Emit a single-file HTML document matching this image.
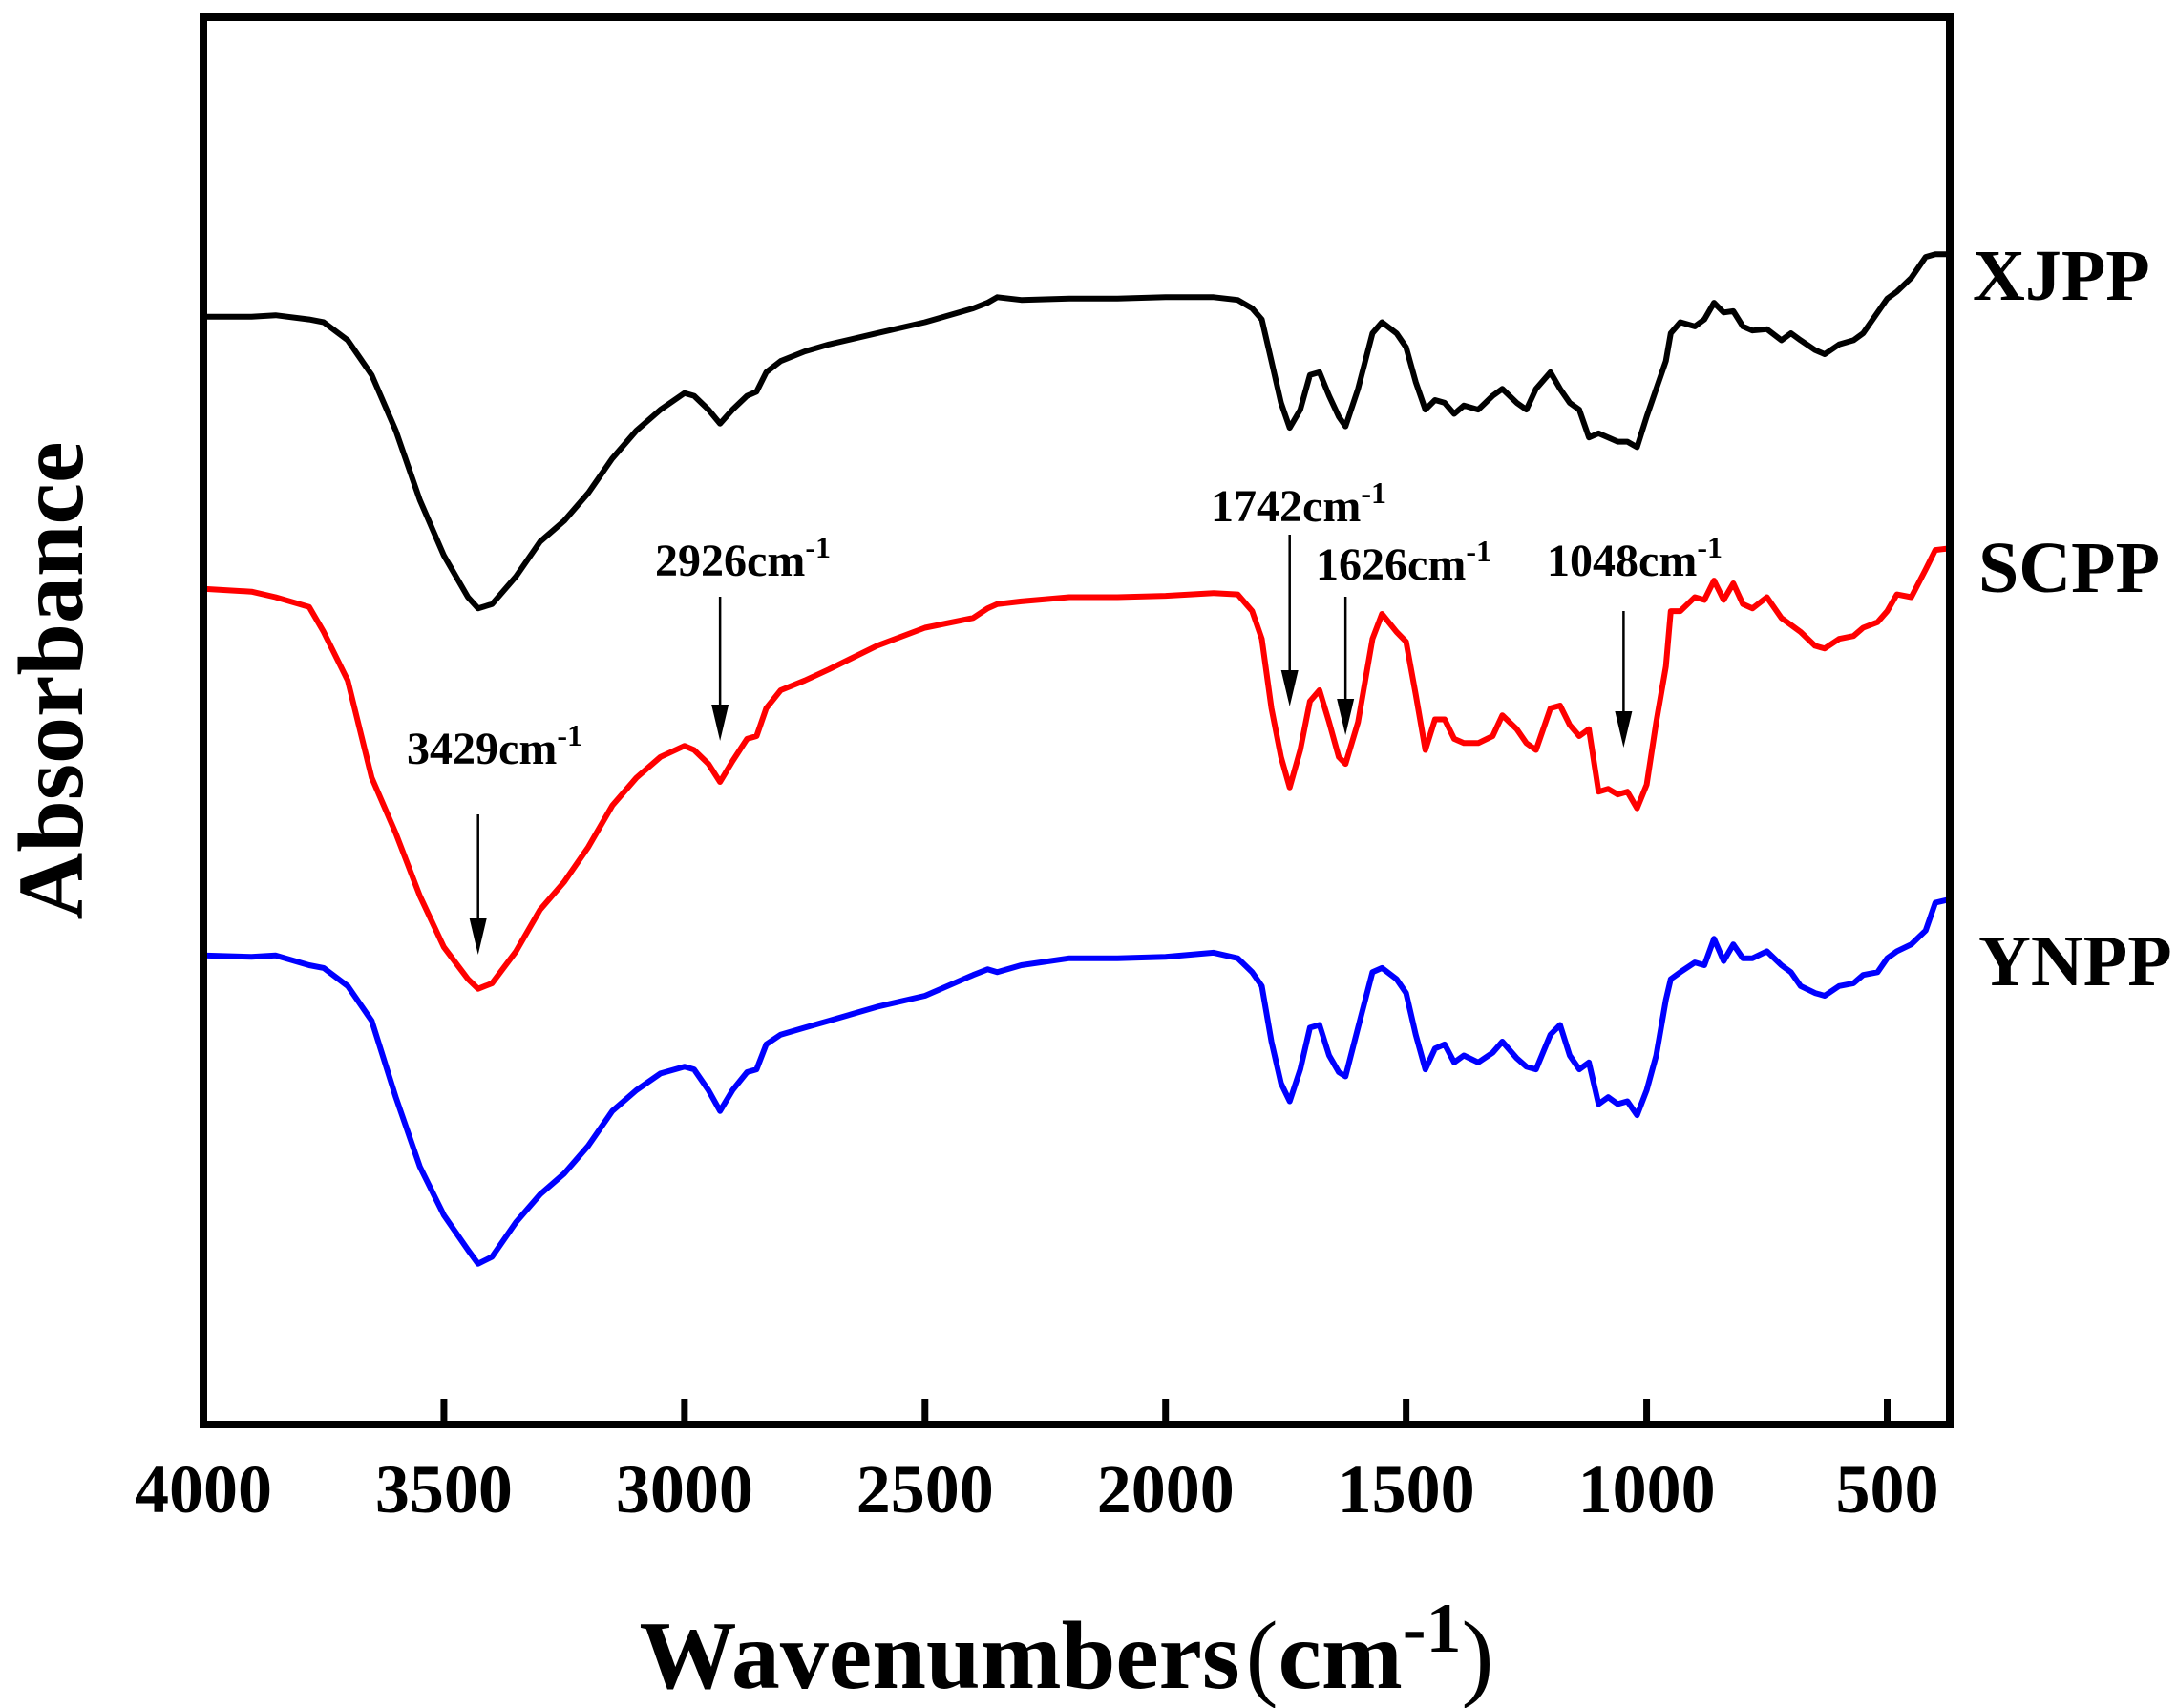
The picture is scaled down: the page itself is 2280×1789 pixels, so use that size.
<!DOCTYPE html>
<html><head><meta charset="utf-8"><style>
html,body{margin:0;padding:0;background:#fff;}
svg{display:block;}
text{font-family:"Liberation Serif",serif;font-weight:bold;fill:#000;}
</style></head><body>
<svg id="chart" width="2280" height="1789" viewBox="0 0 2280 1789" xmlns="http://www.w3.org/2000/svg">
<g id="series"></g>
<g id="annots"></g>
<rect x="213" y="18" width="1829" height="1474" fill="none" stroke="#000" stroke-width="8"/>
<g id="xaxis"></g>
<text x="2066" y="314" font-size="76">XJPP</text>
<text x="2072" y="620" font-size="76">SCPP</text>
<text x="2072" y="1032" font-size="76">YNPP</text>
<text transform="translate(86,713) rotate(-90)" text-anchor="middle" font-size="98">Absorbance</text>
<text x="1117" y="1768" text-anchor="middle" font-size="102">Wavenumbers<tspan font-weight="normal" dx="6">(</tspan>cm<tspan dy="-38" font-size="74">-1</tspan><tspan dy="38" font-weight="normal">)</tspan></text>
</svg>
<script>
// wavenumber grid (cm-1)
const wn = [4000,3900,3850,3780,3750,3700,3650,3600,3550,3500,3450,3429,3400,3350,3300,3250,3200,3150,3100,3050,3000,2980,2950,2926,2900,2870,2850,2830,2800,2750,2700,2600,2500,2400,2370,2350,2300,2200,2100,2000,1900,1850,1820,1800,1780,1760,1742,1720,1700,1680,1660,1640,1626,1600,1570,1550,1520,1500,1480,1460,1440,1420,1400,1380,1350,1320,1300,1270,1250,1230,1200,1180,1160,1140,1120,1100,1080,1060,1040,1020,1000,980,960,950,930,900,880,860,840,820,800,780,750,720,700,680,650,630,600,570,550,520,500,480,450,420,400,375];
// signal depth values (larger = lower on plot)
const xjpp = [228,228,227,230,232,245,270,310,360,400,430,438,435,415,390,375,355,330,310,295,283,285,295,305,295,285,282,268,260,253,248,240,232,222,218,214,216,215,215,214,214,216,222,230,260,290,308,295,270,268,285,300,307,280,240,232,240,250,275,295,288,290,298,292,295,285,280,290,295,280,268,280,290,295,315,312,315,318,318,322,300,280,260,240,232,235,230,218,225,224,235,238,237,245,240,245,252,255,248,245,240,225,215,210,200,185,183,183];
const scpp = [424,426,430,437,455,490,560,600,645,682,705,712,708,685,655,635,610,580,560,545,537,540,550,563,548,532,530,510,497,490,482,465,452,445,438,435,433,430,430,429,427,428,440,460,510,545,567,540,505,497,520,545,550,520,460,442,455,462,500,540,518,518,532,535,535,530,515,525,535,540,510,508,522,530,525,570,568,572,570,582,565,520,480,440,440,430,432,418,432,420,435,438,430,445,450,455,465,467,460,458,452,448,440,428,430,410,396,395];
const ynpp = [688,689,688,695,697,710,735,790,840,875,900,910,905,880,860,845,825,800,785,773,768,770,785,800,785,772,770,752,745,740,735,725,717,702,698,700,695,690,690,689,686,690,700,710,750,780,793,770,740,738,760,772,775,740,700,697,705,715,745,770,755,752,765,760,765,758,750,762,768,770,745,738,760,770,765,795,790,795,793,803,785,760,720,705,700,693,695,676,692,680,690,690,685,695,700,710,715,717,710,708,702,700,690,685,680,670,650,648];
const xTicks = [4000,3500,3000,2500,2000,1500,1000,500];
const peaks = [3429,2926,1742,1626,1048];
const peakLabels = ["3429","2926","1742","1626","1048"];

const NS="http://www.w3.org/2000/svg";
const X0=213, X1=2042, W0=4000, W1=370;
function xs(w){return X0+(W0-w)*(X1-X0)/(W0-W1);}
function ys(v){return 17.5+(v-12)*(1491-17.5)/1013;}

const sg=document.getElementById('series');
[[xjpp,'#000','xjpp'],[scpp,'#ff0000','scpp'],[ynpp,'#0000ff','ynpp']].forEach(([arr,c,n])=>{
  const p=document.createElementNS(NS,'path');
  
  
  p.setAttribute('d', arr.map((v,i)=>(i?'L':'M')+xs(wn[i]).toFixed(1)+','+ys(v).toFixed(1)).join(''));
  p.setAttribute('fill','none');p.setAttribute('stroke',c);p.setAttribute('stroke-width','6');p.setAttribute('stroke-linejoin','round');
  sg.appendChild(p);
});

const xa=document.getElementById('xaxis');
xTicks.forEach(t=>{
  const x=xs(t);
  const l=document.createElementNS(NS,'line');
  
  
  l.setAttribute('x1',x);l.setAttribute('x2',x);l.setAttribute('y1',1492);l.setAttribute('y2',1465);
  l.setAttribute('stroke','#000');l.setAttribute('stroke-width','7');
  xa.appendChild(l);
  const tx=document.createElementNS(NS,'text');
  
  
  tx.setAttribute('x',x);tx.setAttribute('y',1584);tx.setAttribute('text-anchor','middle');tx.setAttribute('font-size','72');
  tx.textContent=t;
  xa.appendChild(tx);
});

// annotation geometry: [textX, textY, arrowTop, arrowBottom]
const ann=[[518,800,853,1000],[778,603,625,776],[1360,546,560,740],[1470,607,625,770],[1712,603,640,783]];
const ag=document.getElementById('annots');
peaks.forEach((w,i)=>{
  const x=xs(w); const a=ann[i];
  const l=document.createElementNS(NS,'line');
  
  
  l.setAttribute('x1',x);l.setAttribute('x2',x);l.setAttribute('y1',a[2]);l.setAttribute('y2',a[3]-30);
  l.setAttribute('stroke','#000');l.setAttribute('stroke-width','2.5');
  ag.appendChild(l);
  const h=document.createElementNS(NS,'polygon');
  
  
  h.setAttribute('points',(x-9)+','+(a[3]-38)+' '+(x+9)+','+(a[3]-38)+' '+x+','+a[3]);
  h.setAttribute('fill','#000');
  ag.appendChild(h);
  const t=document.createElementNS(NS,'text');
  
  
  t.setAttribute('x',a[0]);t.setAttribute('y',a[1]);t.setAttribute('text-anchor','middle');t.setAttribute('font-size','48');
  t.innerHTML=peakLabels[i]+'cm<tspan dy="-19" font-size="32">-1</tspan>';
  ag.appendChild(t);
});
</script>
</body></html>
